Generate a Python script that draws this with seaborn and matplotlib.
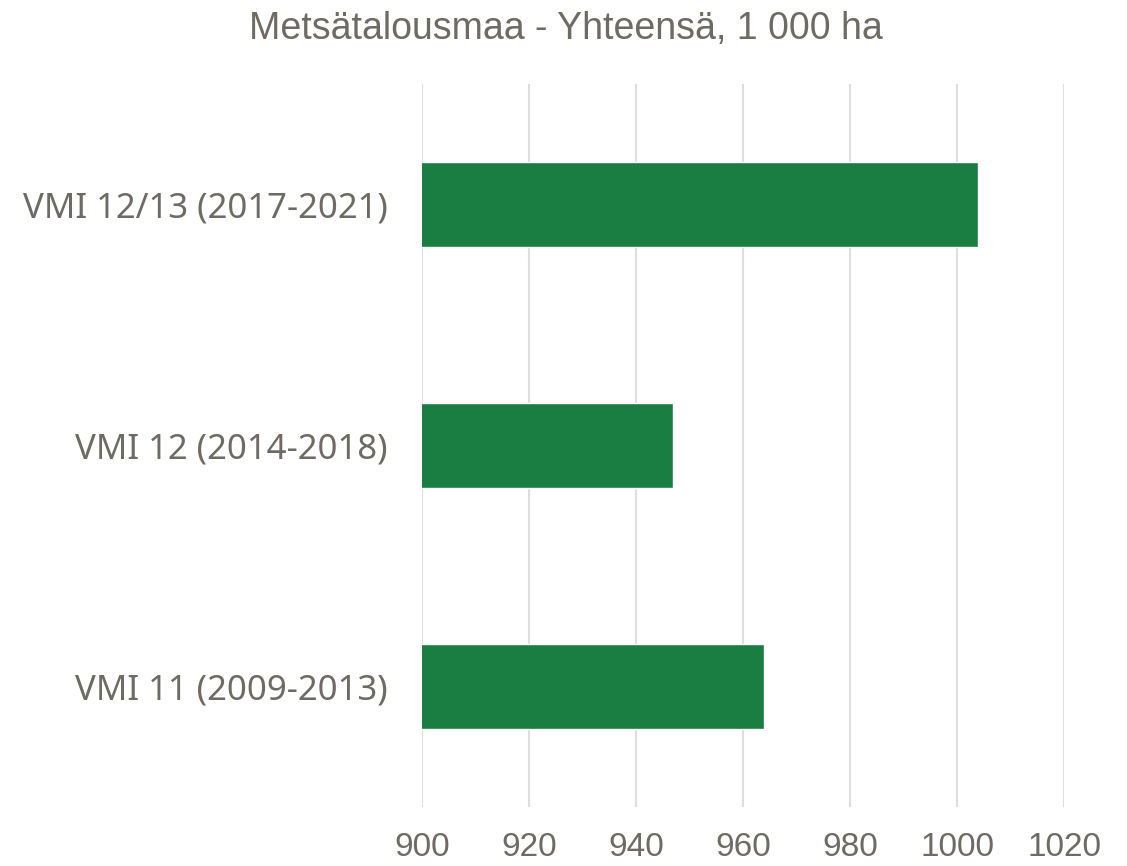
import pandas as pd
import seaborn as sns
import matplotlib.pyplot as plt

sns.set_theme(style="white")

periods = ["VMI 12/13 (2017-2021)", "VMI 12 (2014-2018)", "VMI 11 (2009-2013)"]
area_kha = [1004, 947, 964]
xticks = [900, 920, 940, 960, 980, 1000, 1020]

TEXT = "#6e6a64"
GREEN = "#1a7d41"

plt.rcParams["font.family"] = ["Liberation Sans", "DejaVu Sans"]

df = pd.DataFrame({"period": periods, "area": area_kha})

fig = plt.figure(figsize=(11.27, 8.66), dpi=100)
ax = fig.add_axes([0.3745, 0.0681, 0.5696, 0.8349])

sns.barplot(data=df, x="area", y="period", orient="h", color=GREEN,
            saturation=1, width=0.353, ax=ax)

ax.set_xlim(900, 1020)
ax.set_ylim(2.5, -0.5)
ax.set_xticks(xticks)
ax.xaxis.grid(True, color="#dedede", linewidth=1.5)
ax.set_axisbelow(True)
for s in ax.spines.values():
    s.set_visible(False)
ax.set_xlabel("")
ax.set_ylabel("")
ax.tick_params(axis="x", length=0, pad=18, labelsize=24, labelcolor=TEXT)
ax.tick_params(axis="y", length=0, pad=25, labelcolor=TEXT)
for lab in ax.get_yticklabels():
    lab.set_fontfamily(["Noto Sans", "DejaVu Sans"])
    lab.set_fontsize(25)

fig.suptitle("Metsätalousmaa - Yhteensä, 1 000 ha", x=0.502, y=0.987,
             va="top", fontsize=27, color=TEXT)

fig.savefig("out.png", dpi=100)
